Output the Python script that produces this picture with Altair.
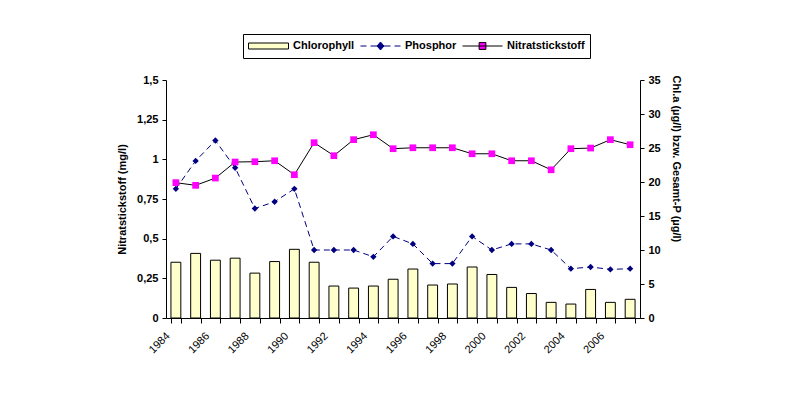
import altair as alt
import pandas as pd

# ---------------- data ----------------
years = [1984, 1985, 1986, 1987, 1988, 1989, 1990, 1991, 1992, 1993, 1994, 1995,
         1996, 1997, 1998, 1999, 2000, 2001, 2002, 2003, 2004, 2005, 2006, 2007]
chlorophyll = [8.2, 9.5, 8.5, 8.8, 6.6, 8.3, 10.1, 8.2, 4.7, 4.4, 4.7, 5.7,
               7.2, 4.85, 5.0, 7.5, 6.4, 4.5, 3.6, 2.3, 2.05, 4.2, 2.3, 2.75]
phosphor = [19.0, 23.1, 26.1, 22.1, 16.1, 17.1, 19.0, 10.0, 10.0, 10.0, 9.0, 12.0,
            10.9, 8.0, 8.0, 12.0, 10.0, 10.9, 10.9, 10.0, 7.25, 7.5, 7.15, 7.25]
nitrat = [0.853, 0.836, 0.882, 0.983, 0.985, 0.991, 0.903, 1.105, 1.023, 1.124, 1.155, 1.067,
          1.073, 1.073, 1.073, 1.035, 1.035, 0.991, 0.991, 0.934, 1.067, 1.071, 1.124, 1.092]

series_names = ["Chlorophyll", "Phosphor", "Nitratstickstoff"]
fill_colors = ["#FFFFCC", "#000080", "#FF00FF"]
stroke_colors = ["#000000", "#000080", "#000000"]
legend_shapes = [
    "M-1,-0.15H1V0.15H-1Z",
    "M-1,0H-0.7M-0.5,0H0.5M0.7,0H1M0,-0.2L0.17,0L0,0.2L-0.17,0Z",
    "M-1,0H1M-0.17,-0.17H0.17V0.17H-0.17Z",
]

left_ticks = [0, 0.25, 0.5, 0.75, 1.0, 1.25, 1.5]
right_ticks = [0, 5, 10, 15, 20, 25, 30, 35]

df = pd.DataFrame({"Jahr": years, "Chlorophyll": chlorophyll,
                   "Phosphor": phosphor, "Nitrat": nitrat})
legend_df = pd.DataFrame({"series": series_names})

FONT = "Liberation Sans"

x_enc = alt.X(
    "Jahr:O",
    scale=alt.Scale(type="band", paddingInner=0.5, paddingOuter=0.25),
    axis=alt.Axis(
        title=None, tickBand="extent", labelAngle=315, labelAlign="right",
        labelBaseline="middle", labelOffset=-8, labelPadding=11, tickSize=5,
        labelFontWeight="normal",
        labelExpr="datum.value % 2 == 0 ? datum.label : ''",
        labelOverlap=False, labelFlush=False, domainColor="black", tickColor="black",
    ),
)

right_scale = alt.Scale(domain=[0, 35], nice=False)
right_axis = alt.Axis(
    orient="right", values=right_ticks, format="d", tickSize=4, labelPadding=4,
    title="Chl.a (µg/l) bzw. Gesamt-P (µg/l)", titleAngle=90, titleAlign="left",
    titleBaseline="middle", titleX=35, titleY=-5,
)
left_scale = alt.Scale(domain=[0, 1.5], nice=False)
left_axis = alt.Axis(
    orient="left", values=left_ticks, tickSize=4, labelPadding=4,
    labelExpr="replace(format(datum.value, ''), '.', ',')",
    title="Nitratstickstoff (mg/l)", titlePadding=9,
)

bars = alt.Chart(df).mark_bar(fill="#FFFFCC", stroke="black", strokeWidth=1).encode(
    x=x_enc, y=alt.Y("Chlorophyll:Q", scale=right_scale, axis=right_axis)
)
p_line = alt.Chart(df).mark_line(color="#000080", strokeWidth=1, strokeDash=[6, 4]).encode(
    x=x_enc, y=alt.Y("Phosphor:Q", scale=right_scale, axis=right_axis)
)
p_pts = alt.Chart(df).mark_point(shape="diamond", filled=True, color="#000080",
                                 size=40, opacity=1).encode(
    x=x_enc, y=alt.Y("Phosphor:Q", scale=right_scale, axis=right_axis)
)

leg = alt.Legend(
    title=None, orient="none", legendX=77, legendY=-46, direction="horizontal",
    symbolSize=1600, symbolStrokeWidth=1, clipHeight=14,
    labelFont=FONT, labelFontSize=11, labelFontWeight="bold", labelColor="black",
    labelOffset=4, columnPadding=5, padding=5, strokeColor="black", fillColor="white",
    symbolOpacity=1,
)
legend_layer = alt.Chart(legend_df).mark_point(filled=True, opacity=1).encode(
    fill=alt.Fill("series:N", scale=alt.Scale(domain=series_names, range=fill_colors), legend=leg),
    stroke=alt.Stroke("series:N", scale=alt.Scale(domain=series_names, range=stroke_colors), legend=leg),
    shape=alt.Shape("series:N", scale=alt.Scale(domain=series_names, range=legend_shapes), legend=leg),
).transform_filter("false")

n_line = alt.Chart(df).mark_line(color="black", strokeWidth=1).encode(
    x=x_enc, y=alt.Y("Nitrat:Q", scale=left_scale, axis=left_axis)
)
n_pts = alt.Chart(df).mark_point(shape="square", filled=True, color="#FF00FF",
                                 size=45, opacity=1).encode(
    x=x_enc, y=alt.Y("Nitrat:Q", scale=left_scale, axis=left_axis)
)

right_layer = alt.layer(bars, p_line, p_pts, legend_layer)
left_layer = alt.layer(n_line, n_pts)

chart = alt.layer(right_layer, left_layer).resolve_scale(y="independent").properties(
    width=474, height=238,
    autosize=alt.AutoSizeParams(type="none"),
    padding={"left": 166, "top": 80, "right": 160, "bottom": 82},
    background="white",
).configure_view(stroke=None).configure_axis(
    grid=False, labelFont=FONT, labelFontSize=11, labelFontWeight="bold",
    labelColor="black", titleFont=FONT, titleFontSize=11, titleFontWeight="bold",
    titleColor="black", domainColor="black", tickColor="black",
)

chart.save("out.html", embed_options={"renderer": "svg", "actions": False})
